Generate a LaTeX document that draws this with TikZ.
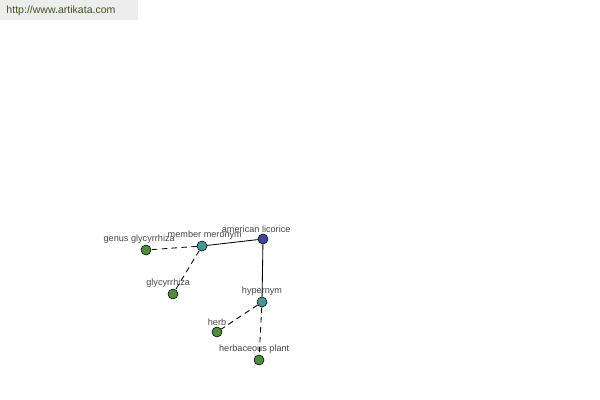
\documentclass[tikz,border=0pt]{standalone}
\usepackage{fontspec}
\setmainfont{Liberation Sans}
\usetikzlibrary{positioning}

\definecolor{hubblue}{RGB}{62,72,150}
\definecolor{reltea}{RGB}{72,150,150}
\definecolor{leafgreen}{RGB}{78,140,62}
\definecolor{labelgray}{RGB}{70,70,70}
\definecolor{urlgreen}{RGB}{60,85,30}

\begin{document}
\begin{tikzpicture}[x=0.025cm, y=-0.025cm,
  every node/.style={font=\fontsize{6.5}{7}\selectfont},
  dot/.style 2 args={circle, draw=black, line width=0.4pt, minimum size=0.25cm, inner sep=0pt,
    label={[text=labelgray, inner sep=0.5pt, label distance=0.3pt, xshift=#2]above:#1}},
  hub/.style 2 args={dot={#1}{#2}, fill=hubblue},
  rel/.style 2 args={dot={#1}{#2}, fill=reltea},
  word/.style 2 args={dot={#1}{#2}, fill=leafgreen},
  link/.style={line width=0.6pt},
  weak/.style={line width=0.6pt, dash pattern=on 4pt off 3pt}]
\useasboundingbox (0,0) rectangle (600,400);
\fill[black!7] (0,0) rectangle (138,20);
\node[text=urlgreen, font=\fontsize{7.5}{8}\selectfont] (url) at (61,11) {http://www.artikata.com};
% centre and relations
\node[hub={american licorice}{-0.17cm}] (licorice) at (263,239) {};
\node[rel={member meronym}{0.07cm}] (meronym) at (202,246) {};
\node[rel={hypernym}{0cm}] (hypernym) at (262,302) {};
% words
\node[word={genus glycyrrhiza}{-0.17cm}] (genus) at (146,250) {};
\node[word={glycyrrhiza}{-0.12cm}] (glycyrrhiza) at (173,294) {};
\node[word={herb}{0cm}] (herb) at (217,332) {};
\node[word={herbaceous plant}{-0.12cm}] (herbaceous) at (259,360) {};
\draw[link] (licorice) -- (meronym);
\draw[link] (licorice) -- (hypernym);
\draw[weak] (meronym) -- (genus);
\draw[weak] (meronym) -- (glycyrrhiza);
\draw[weak] (hypernym) -- (herb);
\draw[weak] (hypernym) -- (herbaceous);
\end{tikzpicture}
\end{document}
